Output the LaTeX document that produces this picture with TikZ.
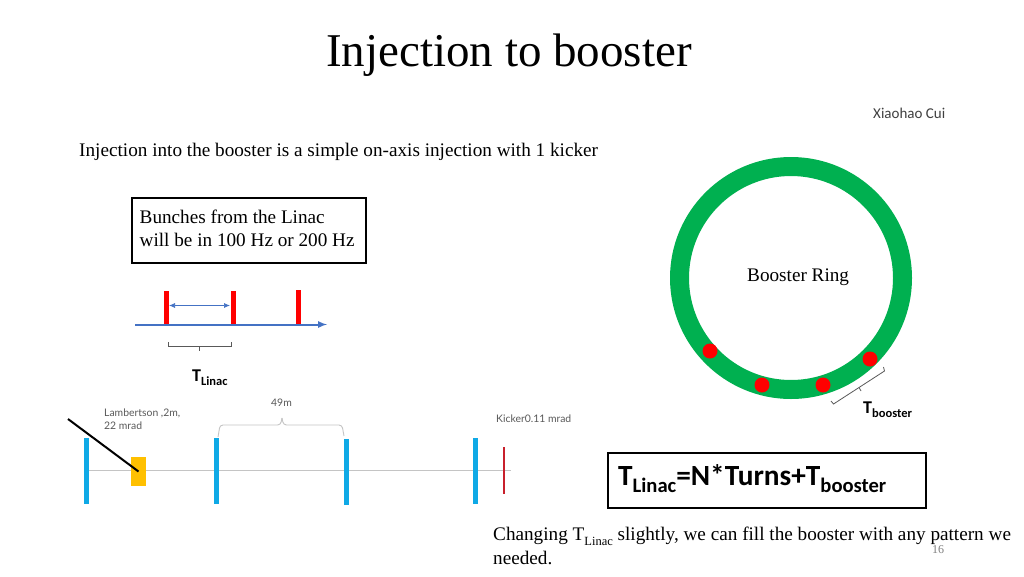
\documentclass[tikz,border=0pt]{standalone}
\usepackage{fontspec}
\usepackage{xcolor}
\setmainfont{Liberation Serif}
\newfontfamily\calfont{Carlito}
\newfontfamily\latofont{Lato}
\usetikzlibrary{arrows,arrows.meta,positioning,calc}
\definecolor{ringgreen}{HTML}{00B050}
\definecolor{barblue}{HTML}{0FA9E6}
\definecolor{linblue}{HTML}{4472C4}
\definecolor{magyellow}{HTML}{FFC000}
\definecolor{kickred}{HTML}{C8202C}
\definecolor{lightline}{HTML}{C4C4C4}
\definecolor{labgray}{HTML}{595959}
\newcommand{\subLabel}[2]{\raisebox{-0.26em}{\fontsize{#2}{#2}\selectfont #1}}
\tikzset{
	bodytext/.style={inner sep=0pt,anchor=base west,font=\fontsize{19.2}{22}\selectfont},
	boldlabel/.style={inner sep=0pt,anchor=base west,font=\calfont\bfseries\fontsize{18}{22}\selectfont},
	smalllabel/.style={inner sep=0pt,anchor=base west,text=labgray,font=\latofont\fontsize{10.4}{13.5}\selectfont,align=left},
	bluebar/.style={barblue,line width=5pt},
	redbar/.style={red,line width=5pt},
	bunch/.style={red,fill=red,circle,inner sep=0pt,minimum size=15pt},
}
\begin{document}
\begin{tikzpicture}[x=1pt,y=-1pt]
	\useasboundingbox (0,0) rectangle (1024,576);
	\fill[white] (0,0) rectangle (1024,576);
	% title and header
	\node[inner sep=0pt,font=\fontsize{47}{50}\selectfont] (title) at (509,55) {Injection to booster};
	\node[inner sep=0pt,anchor=base west,font=\calfont\fontsize{15}{17}\selectfont,text=black!75] (author) at (873,118) {Xiaohao Cui};
	\node[bodytext] (intro) at (79,156) {Injection into the booster is a simple on-axis injection with 1 kicker};
	% linac bunches
	\draw[black,line width=2pt] (132,198) rectangle (366,263);
	\node[bodytext] (linacone) at (139.5,223) {Bunches from the Linac};
	\node[bodytext] (linactwo) at (139.5,246) {will be in 100 Hz or 200 Hz};
	\coordinate (axis start) at (135,324.5);
	\coordinate (axis end) at (327,324.5);
	\draw[-latex,linblue,line width=2pt] (axis start) -- (axis end);
	\draw[redbar] (166,291) -- (166,324);
	\draw[redbar] (233,291) -- (233,324);
	\draw[redbar] (298.5,290) -- (298.5,324);
	\coordinate (gap left) at (169,305.5);
	\coordinate (gap right) at (230,305.5);
	\draw[{Latex[length=6pt,width=5pt]}-{Latex[length=6pt,width=5pt]},linblue,line width=0.7pt] (gap left) -- (gap right);
	\draw[labgray,line width=0.8pt] (168.5,342) -- (168.5,346) -- (231,346) -- (231,342);
	\draw[labgray,line width=0.8pt] (199.5,346) -- (199.5,351);
	\node[boldlabel] (tlinac) at (192,381) {T\subLabel{Linac}{12.5}};
	% booster ring
	\node[circle,draw=ringgreen,line width=19pt,minimum size=223pt,inner sep=0pt] (ring) at (791,278) {};
	\node[bodytext] (ringlabel) at (747,281) {Booster Ring};
	\node[bunch] (b1) at (710,351) {};
	\node[bunch] (b2) at (762,385) {};
	\node[bunch] (b3) at (823,385) {};
	\node[bunch] (b4) at (870,359) {};
	\draw[labgray,line width=0.8pt] (831,401) -- (833.5,404) -- (884.5,371) -- (883.5,367);
	\draw[labgray,line width=0.8pt] (859,387.5) -- (861,391);
	\node[boldlabel] (tbooster) at (863,413) {T\subLabel{booster}{12.5}};
	% transfer line
	\draw[lightline,line width=1pt] (88,470.5) -- (511,470.5);
	\node[fill=magyellow,inner sep=0pt,minimum width=15pt,minimum height=29pt] (lambertson) at (138.5,471.5) {};
	\coordinate (inject) at (68,419);
	\draw[black,line width=2pt] (inject) -- (lambertson.center);
	\draw[bluebar] (86,438) -- (86,503.5);
	\draw[bluebar] (216,438) -- (216,504);
	\draw[bluebar] (346.5,439) -- (346.5,505);
	\draw[bluebar] (475.5,438) -- (475.5,504);
	\draw[kickred,line width=2.5pt] (504,447) -- (504,494);
	\draw[lightline,line width=0.9pt,rounded corners=3pt] (218,437) -- (220,425) -- (280.5,425) -- (282,418);
	\draw[lightline,line width=0.9pt,rounded corners=3pt] (344,436) -- (342,425) -- (283.5,425) -- (282,418);
	\node[smalllabel] (lamblabel) at (104,429.5) {Lambertson ,2m,\\22 mrad};
	\node[smalllabel] (gaplabel) at (271,406) {49m};
	\node[smalllabel] (kicklabel) at (496,422) {Kicker0.11 mrad};
	% relation and closing remark
	\draw[black,line width=2pt] (608,453) rectangle (926,508);
	\node[inner sep=0pt,anchor=base west,font=\calfont\bfseries\fontsize{29.3}{31}\selectfont] (relation) at (618,485)
		{T\subLabel{Linac}{20.6}=N*Turns+T\subLabel{booster}{20.6}};
	\node[bodytext] (closeone) at (493,540) {Changing T\subLabel{Linac}{12.5} slightly, we can fill the booster with any pattern we};
	\node[bodytext] (closetwo) at (493,564) {needed.};
	\node[inner sep=0pt,anchor=base west,text=black!50,font=\fontsize{12}{14}\selectfont] (pagenum) at (932,553) {16};
\end{tikzpicture}
\end{document}
